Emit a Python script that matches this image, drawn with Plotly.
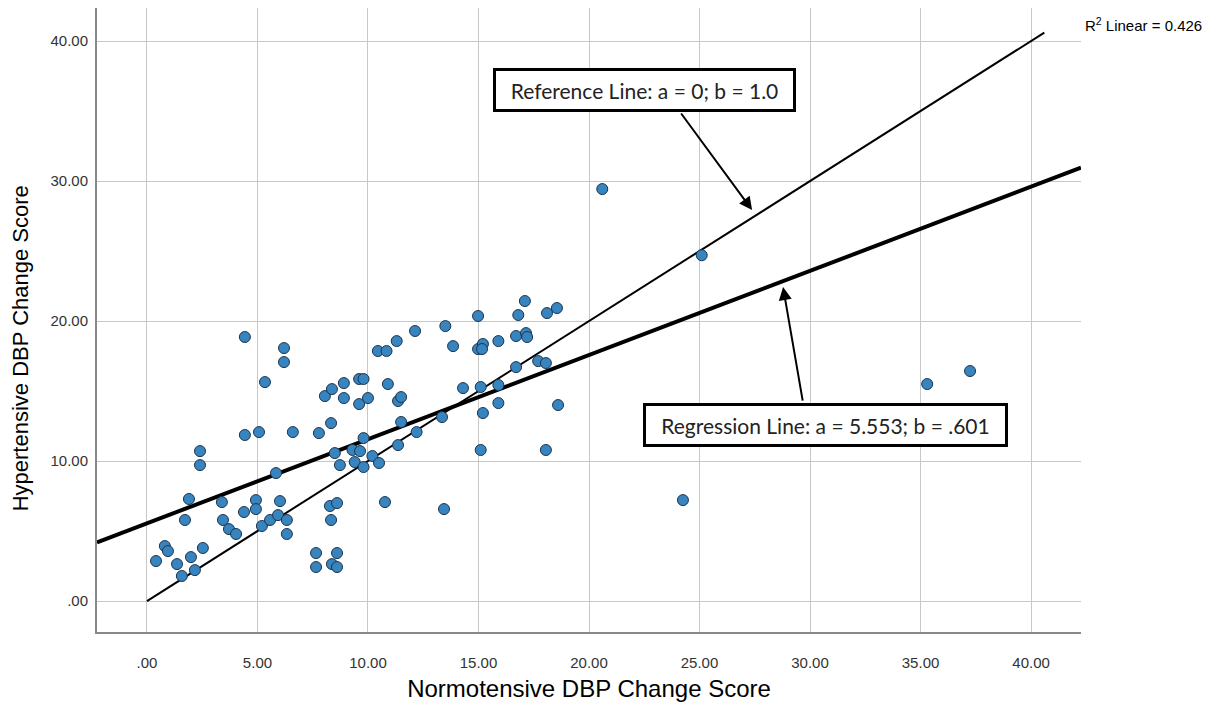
import plotly.graph_objects as go

# ---- data ----
normotensive = [4.43, 6.20, 6.20, 5.34, 8.05, 8.37, 8.91, 8.91, 4.43, 5.07, 6.60, 7.78, 8.33,
                2.40, 2.40, 8.50, 8.73, 5.84, 1.90, 3.39, 4.93, 6.02, 4.39, 4.93, 1.72, 3.44,
                3.71, 4.03, 5.20, 5.57, 5.93, 6.33, 6.33, 8.28, 8.60, 8.33, 0.81, 0.95, 0.41,
                1.36, 1.99, 2.53, 1.58, 2.17, 7.65, 8.60, 7.65, 8.37, 8.60,
                9.60, 9.80, 9.60, 10.00, 10.45, 10.84, 11.30, 12.13, 13.50, 13.85, 10.90, 11.36,
                11.50, 11.50, 12.20, 11.36, 13.35, 14.30, 14.98, 14.98, 15.20, 15.16, 15.90,
                16.80, 17.10, 16.70, 17.15, 17.20, 18.10, 17.70, 18.05, 16.70, 15.10, 15.90,
                15.90, 15.20, 9.80, 9.30, 9.64, 10.20, 9.40, 9.80, 10.50, 10.77, 13.44, 15.10,
                18.05, 18.55, 18.60, 20.60, 25.10, 24.25, 35.30, 37.24]
hypertensive = [18.86, 18.07, 17.07, 15.64, 14.64, 15.14, 15.57, 14.50, 11.86, 12.07, 12.07, 12.00, 12.71,
                10.71, 9.71, 10.57, 9.71, 9.14, 7.29, 7.07, 7.21, 7.14, 6.36, 6.57, 5.79, 5.79,
                5.14, 4.79, 5.36, 5.79, 6.14, 5.79, 4.79, 6.79, 7.00, 5.79, 3.93, 3.57, 2.86,
                2.64, 3.14, 3.79, 1.79, 2.21, 3.43, 3.43, 2.43, 2.64, 2.43,
                15.86, 15.86, 14.07, 14.50, 17.86, 17.86, 18.57, 19.29, 19.64, 18.21, 15.50, 14.29,
                14.57, 12.79, 12.07, 11.14, 13.14, 15.21, 20.36, 18.00, 18.36, 18.00, 18.57,
                20.43, 21.43, 18.93, 19.14, 18.86, 20.57, 17.14, 17.00, 16.71, 15.29, 15.43,
                14.14, 13.43, 11.64, 10.79, 10.71, 10.36, 9.93, 9.57, 9.86, 7.07, 6.57, 10.79,
                10.79, 20.93, 14.00, 29.43, 24.70, 7.21, 15.50, 16.43]

reg_a, reg_b = 5.553, 0.601
ref_a, ref_b = 0.0, 1.0
ref_x_end = 40.6
r2 = 0.426

tick_vals = [0, 5, 10, 15, 20, 25, 30, 35, 40]
x_tick_text = [".00", "5.00", "10.00", "15.00", "20.00", "25.00", "30.00", "35.00", "40.00"]
y_tick_vals = [0, 10, 20, 30, 40]
y_tick_text = [".00", "10.00", "20.00", "30.00", "40.00"]

x_title = "Normotensive DBP Change Score"
y_title = "Hypertensive DBP Change Score"

x_range = [-2.26, 42.26]
y_range = [-2.21, 42.36]

fig = go.Figure()

# regression line
fig.add_trace(go.Scatter(
    x=x_range, y=[reg_a + reg_b * v for v in x_range],
    mode="lines", line=dict(color="black", width=4), hoverinfo="skip", showlegend=False))
# reference line
fig.add_trace(go.Scatter(
    x=[0, ref_x_end], y=[ref_a + ref_b * 0, ref_a + ref_b * ref_x_end],
    mode="lines", line=dict(color="black", width=2), hoverinfo="skip", showlegend=False))
# points
fig.add_trace(go.Scatter(
    x=normotensive, y=hypertensive, mode="markers",
    marker=dict(size=11, color="#3884BF", line=dict(color="#1A3550", width=1)),
    showlegend=False))

box_font = dict(family="Lato, Noto Sans, sans-serif", size=21, color="#222")
fig.add_annotation(x=22.49, y=36.5, xref="x", yref="y",
                   text="Reference Line: a = 0; b = 1.0", showarrow=False,
                   font=box_font, bgcolor="white", bordercolor="black", borderwidth=3,
                   width=291, height=32, borderpad=3)
fig.add_annotation(x=30.7, y=12.6, xref="x", yref="y",
                   text="Regression Line: a = 5.553; b = .601", showarrow=False,
                   font=box_font, bgcolor="white", bordercolor="black", borderwidth=3,
                   width=353, height=32, borderpad=3)
# arrows
fig.add_annotation(x=27.38, y=27.93, ax=24.12, ay=34.93, xref="x", yref="y", axref="x", ayref="y",
                   text="", showarrow=True, arrowhead=2, arrowsize=1.3, arrowwidth=2, arrowcolor="black")
fig.add_annotation(x=28.78, y=22.43, ax=29.68, ay=14.21, xref="x", yref="y", axref="x", ayref="y",
                   text="", showarrow=True, arrowhead=2, arrowsize=1.3, arrowwidth=2, arrowcolor="black")

fig.add_annotation(x=1.002, y=0.974, xref="paper", yref="paper", xanchor="left", yanchor="middle",
                   text=f"R<sup>2</sup> Linear = {r2:.3f}", showarrow=False,
                   font=dict(family="Liberation Sans, Arial, sans-serif", size=15, color="black"))

# y-axis title (placed a little below the plot centre, as in the original)
fig.add_annotation(x=-0.078, y=0.455, xref="paper", yref="paper", xanchor="center", yanchor="middle",
                   text=y_title, textangle=-90, showarrow=False,
                   font=dict(family="Liberation Sans, Arial, sans-serif", size=22, color="black"))

fig.update_layout(
    width=1211, height=704,
    margin=dict(l=89, r=138, t=0, b=80),
    paper_bgcolor="white", plot_bgcolor="white",
    font=dict(family="Liberation Sans, Arial, sans-serif", color="#333"),
)
fig.update_xaxes(
    range=x_range, tickvals=tick_vals, ticktext=x_tick_text,
    showgrid=True, gridcolor="#c8c8c8", gridwidth=1, zeroline=False,
    showline=True, linecolor="#888", linewidth=2, ticks="",
    tickfont=dict(size=15, color="#333"), ticklabelstandoff=16,
    title=dict(text=x_title, font=dict(size=24, color="black"), standoff=10))
fig.update_yaxes(
    range=y_range, tickvals=y_tick_vals, ticktext=y_tick_text,
    showgrid=True, gridcolor="#c8c8c8", gridwidth=1, zeroline=False,
    showline=True, linecolor="#888", linewidth=2, ticks="",
    tickfont=dict(size=15, color="#333"), ticklabelstandoff=4)

fig.write_html("out.html")
